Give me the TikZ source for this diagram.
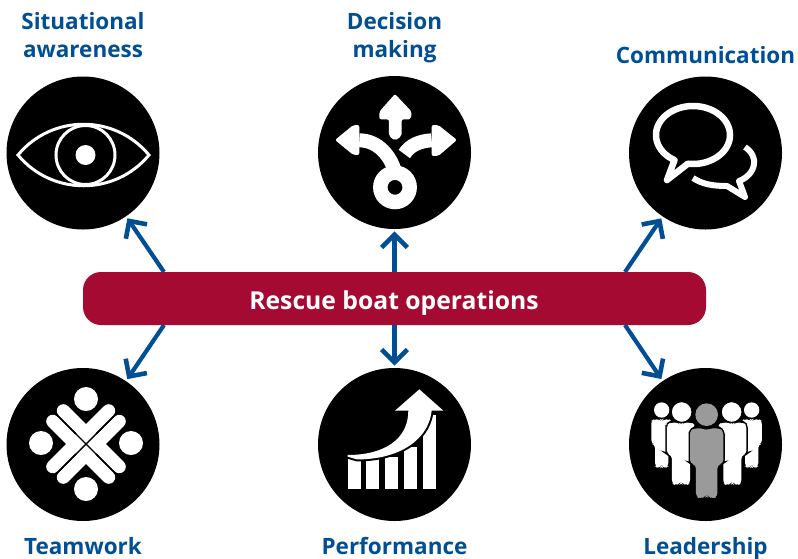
\documentclass[tikz,border=0pt]{standalone}
\usepackage{fontspec}
\setmainfont{Open Sans}
\usetikzlibrary{arrows.meta}
\definecolor{hblue}{HTML}{004F94}
\definecolor{hred}{HTML}{A50A32}
\definecolor{hgrey}{HTML}{9A9A9A}
\pgfdeclarearrow{
  name=VHead,
  setup code={
    \pgfarrowssettipend{0pt}
    \pgfarrowssetlineend{-4pt}
    \pgfarrowssetvisualbackend{-16pt}
    \pgfarrowssetbackend{-16pt}
    \pgfarrowshullpoint{0pt}{0pt}
    \pgfarrowshullpoint{-16pt}{13pt}
    \pgfarrowshullpoint{-16pt}{-13pt}
  },
  drawing code={
    \pgfsetlinewidth{4.6pt}
    \pgfsetmiterjoin
    \pgfsetbuttcap
    \pgfsetmiterlimit{10}
    \pgfpathmoveto{\pgfqpoint{-16pt}{12.8pt}}
    \pgfpathlineto{\pgfqpoint{-3.2pt}{0pt}}
    \pgfpathlineto{\pgfqpoint{-16pt}{-12.8pt}}
    \pgfusepathqstroke
  }
}
\newcommand\zperson[5]{%
  \begin{scope}[shift={(#1,#2)},xscale=#3,yscale=#4]
    \def\zbody{(-50,20) -- (-50,8) -- (-38,0) -- (-8,0) -- (0,9) -- (8,0) -- (38,0) -- (50,8)
      -- (50,105) -- (32,110) -- (32,205) -- (20,211) -- (3,205) -- (0,200) -- (-3,205)
      -- (-20,211) -- (-32,205) -- (-32,110) -- (-50,105) -- cycle}
    \path[draw=black,line width=3pt,rounded corners=3.5pt] \zbody;
    \path[fill=#5,rounded corners=3.5pt] \zbody;
  \end{scope}}
\tikzset{
  icon/.style={circle,fill=black,inner sep=0pt,outer sep=0pt,minimum size=153pt},
  lab/.style={font=\bfseries\fontsize{22.5}{27}\selectfont,text=hblue,anchor=base,inner sep=0pt},
  link/.style={draw=hblue,line width=4.2pt,-{VHead},shorten >=2.5pt},
  zoomed/.style 2 args={shift={(#1,#2)},x=0.3333pt,y=-0.3333pt},
  wline/.style={draw=white,fill=none},
}
\begin{document}
\begin{tikzpicture}[x=1pt,y=-1pt]
\useasboundingbox (0,0) rectangle (798,558);
% circles
\node[icon] (c1) at (83,153) {};
\node[icon] (c2) at (394.5,152.5) {};
\node[icon] (c3) at (705.5,153) {};
\node[icon] (c4) at (83,444.5) {};
\node[icon] (c5) at (394.5,444.5) {};
\node[icon] (c6) at (705.5,444.5) {};
% arrows
\coordinate (s1) at (164,272);
\coordinate (s2) at (394.5,272);
\coordinate (s3) at (625,272);
\coordinate (s4) at (164,325);
\coordinate (s5) at (394.5,325);
\coordinate (s6) at (625,325);
\draw[link] (s1) -- (c1);
\draw[link] (s2) -- (c2);
\draw[link] (s3) -- (c3);
\draw[link] (s4) -- (c4);
\draw[link] (s5) -- (c5);
\draw[link] (s6) -- (c6);
% bar
\node[fill=hred,rounded corners=18pt,minimum width=623pt,minimum height=53pt,inner sep=0pt] (bar) at (394.5,298.5) {};
\node[text=white,font=\bfseries\fontsize{24.7}{28}\selectfont,anchor=base,inner sep=0pt] (bart) at (394,309) {Rescue boat operations};
% labels
\node[lab] (l1a) at (83,29) {Situational};
\node[lab] (l1b) at (83,57) {awareness};
\node[lab] (l2a) at (394.5,29) {Decision};
\node[lab] (l2b) at (394.5,57) {making};
\node[lab] (l3) at (705.5,63) {Communication};
\node[lab] (l4) at (83,554) {Teamwork};
\node[lab] (l5) at (394.5,554) {Performance};
\node[lab] (l6) at (705.5,554) {Leadership};
% eye
\draw[wline,line width=3pt,line join=miter] (18,155) .. controls (52,114) and (115,114) .. (149,155)
   .. controls (115,196) and (52,196) .. (18,155) -- cycle;
\draw[wline,line width=3pt] (85.5,155) circle[radius=29.5];
\fill[white] (85.5,155) circle[radius=10];
% decision
\begin{scope}[zoomed={310}{70}]
  \fill[white,rounded corners=2pt] (255,72) -- (305,125) -- (303,148) -- (275,148) -- (275,198) -- (255,212) -- (237,198) -- (237,148) -- (208,148) -- (208,125) -- cycle;
  \draw[white,line width=14pt,line join=round] (148,211) .. controls (205,211) and (245,260) .. (258,315);
  \draw[white,line width=14pt] (365,211) .. controls (330,213) and (300,225) .. (283,252);
  \fill[white,rounded corners=2pt] (75,210) -- (130,165) -- (148,165) -- (148,255) -- (130,255) -- cycle;
  \fill[white,rounded corners=2pt] (441,210) -- (385,165) -- (365,165) -- (365,258) -- (385,258) -- cycle;
  \draw[white,line width=14.5pt] (255,352) circle[radius=44];
\end{scope}
% communication
\draw[white,line width=6.5pt,line join=round] plot[domain=120:458,samples=70] ({693+37*cos(\x)},{135+29*sin(\x)}) -- (667,180) -- cycle;
\draw[white,line width=6pt,line join=round] (745,147) .. controls (752,152) and (755,158) .. (754,164)
   .. controls (753,172) and (747,178) .. (739,181) -- (745,197) -- (727,186)
   .. controls (712,186) and (702,184) .. (693,178);
% teamwork
\begin{scope}[shift={(86,444)},line cap=round]
  \fill[white] (0,-45) circle[radius=12];
  \fill[white] (0,45) circle[radius=12];
  \fill[white] (-45,-1) circle[radius=12];
  \fill[white] (45,-1) circle[radius=12];
  \draw[white,line width=13pt] (-22.7,-33.3) -- (33.3,22.7);
  \draw[white,line width=13pt] (-33.3,-22.7) -- (22.7,33.3);
  \draw[white,line width=13pt] (22.7,-33.3) -- (-33.3,22.7);
  \draw[white,line width=13pt] (33.3,-22.7) -- (-22.7,33.3);
  \draw[black,line width=1.4pt,line cap=butt] (-44,-44) -- (44,44);
  \draw[black,line width=1.4pt,line cap=butt] (44,-44) -- (-44,44);
\end{scope}
% performance
\begin{scope}[zoomed={310}{360}]
  \fill[white] (113,295) rectangle (153,388);
  \fill[white] (168,295) rectangle (208,388);
  \fill[white] (225,290) rectangle (265,388);
  \fill[white] (282,260) rectangle (322,388);
  \fill[white] (338,165) rectangle (377,388);
  \def\zarrow{(113,285) .. controls (220,285) and (295,240) .. (295,152) -- (255,152) -- (328,88) -- (400,152) -- (365,152)
    .. controls (355,250) and (250,300) .. (140,298) -- (113,290) -- cycle}
  \path[draw=black,line width=4pt,line join=miter] \zarrow;
  \path[fill=white] \zarrow;
\end{scope}
% leadership
\begin{scope}[zoomed={620}{360}]
  \zperson{125}{178}{0.62}{0.69}{white}
  \zperson{395}{178}{0.62}{0.69}{white}
  \fill[white] (125,150) circle[radius=23];
  \fill[white] (395,150) circle[radius=23];
  \zperson{183}{188}{0.85}{0.89}{white}
  \zperson{337}{188}{0.85}{0.89}{white}
  \path[fill=white,draw=black,line width=1pt] (185,156) circle[radius=31];
  \path[fill=white,draw=black,line width=1pt] (335,156) circle[radius=31];
  \zperson{260}{205}{1}{1}{hgrey}
  \path[fill=hgrey] (260,164) circle[radius=34];
\end{scope}
\end{tikzpicture}
\end{document}
